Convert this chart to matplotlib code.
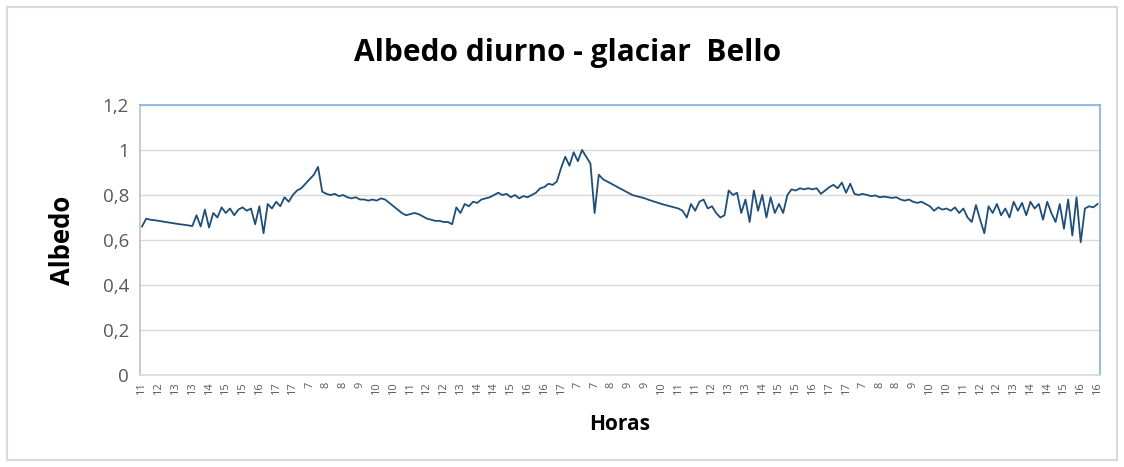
import numpy as np
import matplotlib
matplotlib.use('Agg')
import matplotlib.pyplot as plt
from matplotlib.patches import Rectangle

# Hour labels shown on the category axis
horas = ['11', '12', '13', '13', '14', '15', '15', '16', '17', '17', '7', '8', '8', '9', '10', '10',
         '11', '12', '12', '13', '14', '14', '15', '16', '16', '17', '7', '7', '8', '9', '9', '10',
         '11', '11', '12', '13', '13', '14', '15', '15', '16', '17', '17', '7', '8', '8', '9', '10',
         '10', '11', '12', '12', '13', '14', '14', '15', '16', '16']

# Albedo series (about 4 samples per labelled hour)
albedo = [0.66, 0.695, 0.69, 0.688, 0.685, 0.682, 0.679, 0.676, 0.673, 0.670, 0.668, 0.665, 0.662,
          0.71, 0.66, 0.735, 0.655, 0.72,
          0.70, 0.745, 0.72, 0.74, 0.71, 0.735, 0.745, 0.73, 0.74,
          0.67, 0.75, 0.63, 0.76,
          0.74, 0.77, 0.75, 0.79, 0.77,
          0.80, 0.82, 0.83, 0.85, 0.87, 0.89, 0.925,
          0.815, 0.805, 0.80, 0.805, 0.795, 0.80, 0.79, 0.785, 0.79, 0.78,
          0.78, 0.775, 0.78, 0.775, 0.785, 0.78,
          0.765, 0.75, 0.735, 0.72, 0.71,
          0.715, 0.72, 0.715,
          0.705, 0.695, 0.69, 0.685, 0.685, 0.68, 0.68,
          0.67, 0.745, 0.72, 0.76, 0.75, 0.77,
          0.765, 0.78, 0.785, 0.79,
          0.80, 0.81, 0.80, 0.805, 0.79, 0.80, 0.785, 0.795, 0.79,
          0.80, 0.81, 0.83, 0.835, 0.85, 0.845, 0.86,
          0.92, 0.97, 0.93, 0.99, 0.95, 1.0, 0.97, 0.94, 0.72,
          0.89, 0.87, 0.86, 0.85, 0.84, 0.83, 0.82, 0.81, 0.80, 0.795, 0.79, 0.785, 0.778, 0.772,
          0.766, 0.76, 0.755, 0.75, 0.745, 0.74, 0.73,
          0.70, 0.76, 0.73, 0.77, 0.78, 0.74, 0.75, 0.72, 0.70, 0.71, 0.82,
          0.80, 0.81, 0.72, 0.78, 0.68, 0.82, 0.73, 0.80, 0.70, 0.79, 0.72, 0.76, 0.72,
          0.80, 0.825, 0.82, 0.83, 0.825, 0.83, 0.825, 0.83, 0.805,
          0.82, 0.835, 0.845, 0.83, 0.855, 0.81, 0.85,
          0.805, 0.80, 0.805, 0.80, 0.795, 0.798, 0.79, 0.793, 0.79, 0.787, 0.79, 0.78, 0.775,
          0.78, 0.77, 0.765, 0.77, 0.76, 0.75,
          0.73, 0.745, 0.735, 0.74, 0.73, 0.745,
          0.72, 0.74, 0.70, 0.68, 0.755, 0.69, 0.63, 0.75, 0.72, 0.76, 0.71, 0.74, 0.70, 0.77,
          0.73, 0.765, 0.71, 0.77, 0.74, 0.76, 0.69, 0.77, 0.72, 0.68, 0.76, 0.65, 0.78, 0.62,
          0.79, 0.59, 0.74, 0.75, 0.745, 0.76]

y_ticks = [0, 0.2, 0.4, 0.6, 0.8, 1, 1.2]
y_labels = ['0', '0,2', '0,4', '0,6', '0,8', '1', '1,2']

plt.rcParams['font.family'] = ['Open Sans', 'DejaVu Sans']

fig = plt.figure(figsize=(11.24, 4.67), dpi=100)
ax = fig.add_axes([140 / 1124, 1 - 375 / 467, 960 / 1124, 270 / 467])

x = np.linspace(0, len(horas) - 1, len(albedo))
ax.plot(x, albedo, color='#1F4E79', linewidth=1.3)

ax.set_xlim(-0.12, len(horas) - 1 + 0.15)
ax.set_ylim(0, 1.2)
ax.set_yticks(y_ticks)
ax.set_yticklabels(y_labels, fontsize=13.5, color='#595959')
ax.set_xticks(np.arange(len(horas)))
ax.set_xticklabels(horas, rotation=90, fontsize=8, color='#595959')
ax.tick_params(axis='both', length=0, pad=8)
ax.tick_params(axis='x', pad=5)
ax.grid(axis='y', color='#D9D9D9', linewidth=1)
ax.set_axisbelow(True)

ax.spines['left'].set_color('#BFBFBF')
ax.spines['bottom'].set_color('#D9D9D9')
ax.spines['top'].set_color('#7FB2E5')
ax.spines['right'].set_color('#7FB2E5')
for s in ax.spines.values():
    s.set_linewidth(1.2)

fig.text(568 / 1124, 1 - 53 / 467, 'Albedo diurno - glaciar  Bello', ha='center', va='center',
         fontsize=21.5, fontweight='bold')
fig.text(62 / 1124, 1 - 240 / 467, 'Albedo', ha='center', va='center', rotation=90,
         fontsize=18.5, fontweight='bold')
fig.text(620 / 1124, 1 - 424 / 467, 'Horas', ha='center', va='center',
         fontsize=15, fontweight='bold')

# outer chart border
fig.patches.append(Rectangle((7 / 1124, 7 / 467), 1110 / 1124, 453 / 467, transform=fig.transFigure,
                             fill=False, edgecolor='#D9D9D9', linewidth=1.5))

fig.savefig('out.png', dpi=100)
